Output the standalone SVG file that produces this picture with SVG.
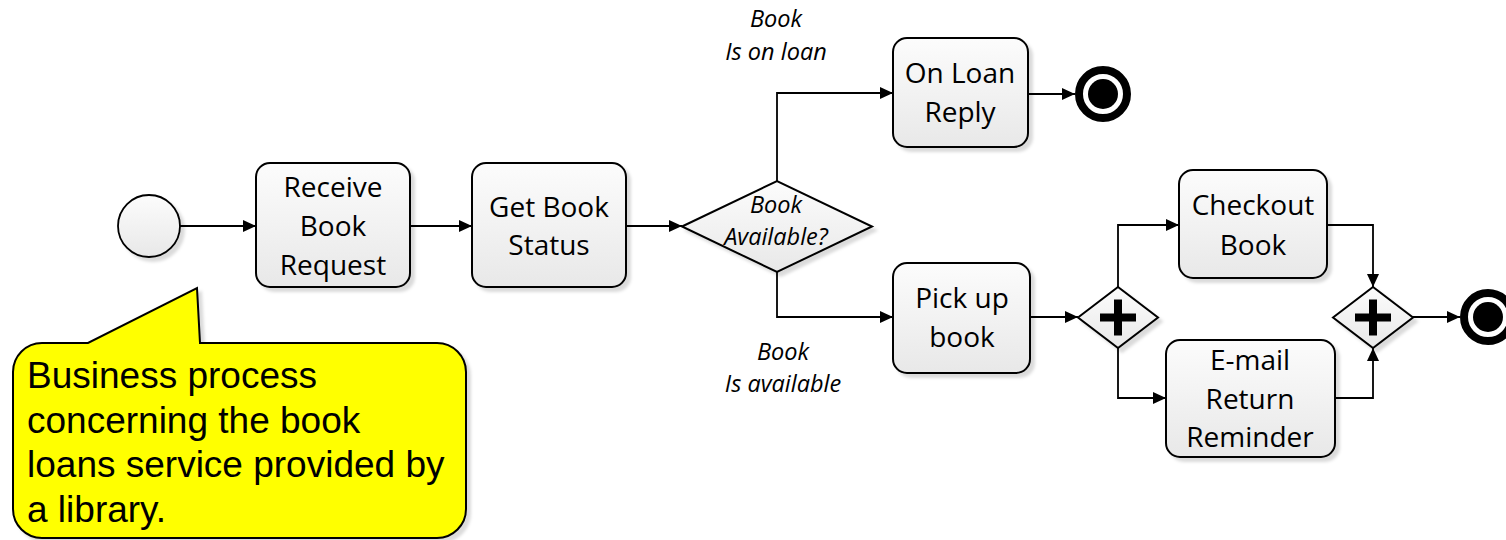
<svg xmlns="http://www.w3.org/2000/svg" width="1506" height="540" viewBox="0 0 1506 540">
<defs>
<linearGradient id="gFill" x1="0" y1="0" x2="0" y2="1">
<stop offset="0" stop-color="#fcfcfc"/>
<stop offset="1" stop-color="#e8e8e8"/>
</linearGradient>
<filter id="sh" x="-10%" y="-10%" width="130%" height="130%">
<feDropShadow dx="4" dy="4" stdDeviation="1.5" flood-color="#000" flood-opacity="0.14"/>
</filter>
<marker id="arr" markerUnits="userSpaceOnUse" markerWidth="14" markerHeight="12" refX="13" refY="6" orient="auto">
<path d="M0,0 L13,6 L0,12 Z" fill="#000"/>
</marker>
<style>
.task{fill:url(#gFill);stroke:#000;stroke-width:2;filter:url(#sh)}
.gw{fill:url(#gFill);stroke:#000;stroke-width:2;filter:url(#sh)}
.lbl{font-family:"Open Sans","Noto Sans","DejaVu Sans",sans-serif;font-size:28px;fill:#000;text-anchor:middle}
.it{font-family:"Open Sans","Noto Sans","DejaVu Sans",sans-serif;font-size:23.5px;font-style:italic;fill:#000;text-anchor:middle}
.con{fill:none;stroke:#000;stroke-width:1.8;marker-end:url(#arr)}
.note{font-family:"Liberation Sans",Arial,sans-serif;font-size:37px;fill:#000}
</style>
</defs>
<rect width="1506" height="540" fill="#fff"/>

<g id="connectors">
<path class="con" d="M180,226 H256"/>
<path class="con" d="M410,226 H472"/>
<path class="con" d="M626,226 H682"/>
<path class="con" d="M777,181 V93 H893"/>
<path class="con" d="M1028,94 H1075"/>
<path class="con" d="M777,272 V317 H893"/>
<path class="con" d="M1030,317 H1078"/>
<path class="con" d="M1118,287 V225 H1179"/>
<path class="con" d="M1118,348 V398 H1166"/>
<path class="con" d="M1327,225 H1373 V287"/>
<path class="con" d="M1335,398 H1373 V348"/>
<path class="con" d="M1412,317 H1460"/>
</g>

<g id="start">
<circle cx="149" cy="226" r="31" fill="url(#gFill)" stroke="#000" stroke-width="1.8" filter="url(#sh)"/>
</g>

<g id="receive">
<rect class="task" x="256" y="163" width="154" height="124" rx="14"/>
<text class="lbl" x="333" y="197">Receive</text>
<text class="lbl" x="333" y="236">Book</text>
<text class="lbl" x="333" y="275">Request</text>
</g>

<g id="getstatus">
<rect class="task" x="472" y="163" width="154" height="124" rx="14"/>
<text class="lbl" x="549" y="217">Get Book</text>
<text class="lbl" x="549" y="255">Status</text>
</g>

<g id="decision">
<polygon class="gw" points="682,226.5 777,181 872,226.5 777,272"/>
<text class="it" x="776" y="213">Book</text>
<text class="it" x="776" y="245">Available?</text>
</g>

<g id="label-onloan">
<text class="it" x="776" y="27">Book</text>
<text class="it" x="776" y="60">Is on loan</text>
</g>

<g id="label-available">
<text class="it" x="783" y="360">Book</text>
<text class="it" x="783" y="392">Is available</text>
</g>

<g id="onloanreply">
<rect class="task" x="893" y="38" width="135" height="109" rx="14"/>
<text class="lbl" x="960" y="83">On Loan</text>
<text class="lbl" x="960" y="122">Reply</text>
</g>

<g id="end1">
<circle cx="1103" cy="94" r="24" fill="#fff" stroke="#000" stroke-width="8"/>
<circle cx="1103" cy="94" r="15" fill="#000"/>
</g>

<g id="pickup">
<rect class="task" x="893" y="263" width="137" height="110" rx="14"/>
<text class="lbl" x="962" y="308">Pick up</text>
<text class="lbl" x="962" y="347">book</text>
</g>

<g id="fork">
<polygon class="gw" points="1078,317.5 1118,287 1158,317.5 1118,348"/>
<rect x="1100" y="313.5" width="36" height="8" fill="#000"/>
<rect x="1114" y="299.5" width="8" height="36" fill="#000"/>
</g>

<g id="checkout">
<rect class="task" x="1179" y="170" width="148" height="108" rx="14"/>
<text class="lbl" x="1253" y="215">Checkout</text>
<text class="lbl" x="1253" y="255">Book</text>
</g>

<g id="email">
<rect class="task" x="1166" y="340" width="169" height="117" rx="14"/>
<text class="lbl" x="1250" y="370">E-mail</text>
<text class="lbl" x="1250" y="408.5">Return</text>
<text class="lbl" x="1250" y="447">Reminder</text>
</g>

<g id="join">
<polygon class="gw" points="1333,317.5 1373,287 1413,317.5 1373,348"/>
<rect x="1355" y="313.5" width="36" height="8" fill="#000"/>
<rect x="1369" y="299.5" width="8" height="36" fill="#000"/>
</g>

<g id="end2">
<circle cx="1488" cy="317" r="24" fill="#fff" stroke="#000" stroke-width="8"/>
<circle cx="1488" cy="317" r="15" fill="#000"/>
</g>

<g id="callout">
<path d="M42,343 L88,343 L197,288 L200,343 L437,343 A29,29 0 0 1 466,372 L466,509 A29,29 0 0 1 437,538 L42,538 A29,29 0 0 1 13,509 L13,372 A29,29 0 0 1 42,343 Z" fill="#ffff00" stroke="#000" stroke-width="2" filter="url(#sh)"/>
<text class="note" x="27" y="388">Business process</text>
<text class="note" x="27" y="433">concerning the book</text>
<text class="note" x="27" y="477">loans service provided by</text>
<text class="note" x="27" y="522">a library.</text>
</g>
</svg>
